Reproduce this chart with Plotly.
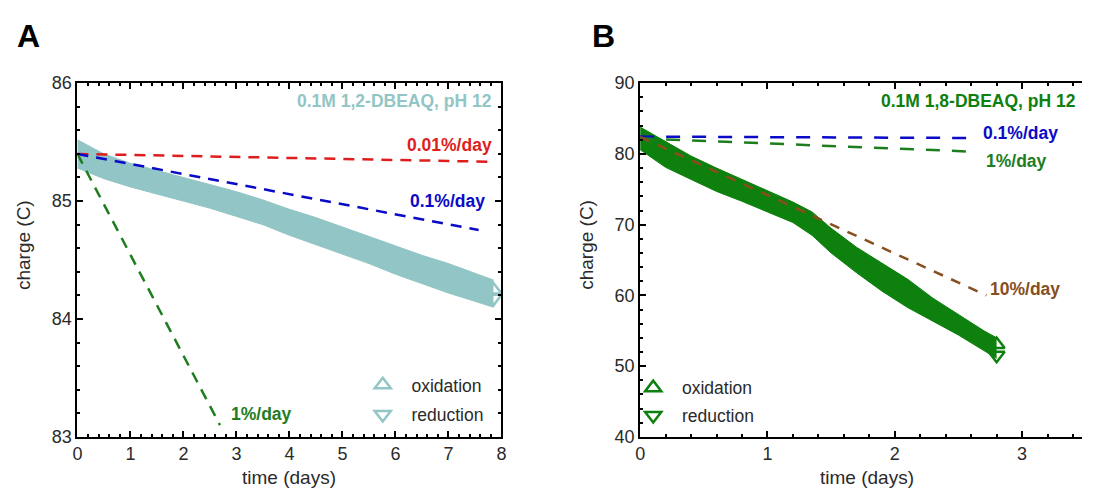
import plotly.graph_objects as go

# ---- panel A : 0.1M 1,2-DBEAQ, pH 12 ----
a_days = [0, 0.5, 1, 1.5, 2, 2.5, 3, 3.5, 4, 4.5, 5, 5.5, 6, 6.5, 7, 7.5, 7.85]
a_oxidation = [85.52, 85.40, 85.32, 85.26, 85.20, 85.14, 85.08, 85.01, 84.93,
               84.86, 84.78, 84.70, 84.62, 84.54, 84.47, 84.39, 84.33]
a_reduction = [85.28, 85.19, 85.12, 85.06, 85.00, 84.94, 84.87, 84.80, 84.71,
               84.63, 84.55, 84.47, 84.38, 84.30, 84.22, 84.15, 84.10]
a_fade_red_x = [0, 7.85]     # 0.01%/day
a_fade_red_y = [85.40, 85.333]
a_fade_blue_x = [0, 7.57]    # 0.1%/day
a_fade_blue_y = [85.40, 84.754]
a_fade_green_x = [0, 2.69]   # 1%/day
a_fade_green_y = [85.40, 83.10]

# ---- panel B : 0.1M 1,8-DBEAQ, pH 12 ----
b_days = [0, 0.2, 0.4, 0.6, 0.8, 1.0, 1.2, 1.35, 1.5, 1.7, 1.9, 2.1, 2.3, 2.5, 2.7, 2.8]
b_oxidation = [83.8, 81.7, 79.7, 78.0, 76.4, 74.7, 73.2, 71.8, 69.5, 66.8,
               64.5, 62.3, 59.6, 57.3, 55.0, 54.0]
b_reduction = [80.6, 78.1, 76.4, 74.7, 73.3, 71.8, 70.3, 68.5, 66.0, 63.2,
               60.6, 58.3, 56.3, 54.4, 52.2, 51.1]
b_fade_blue_x = [0, 2.64]    # 0.1%/day
b_fade_blue_y = [82.45, 82.25]
b_fade_green_x = [0, 2.64]   # 1%/day
b_fade_green_y = [82.2, 80.3]
b_fade_brown_x = [0, 2.72]   # 10%/day
b_fade_brown_y = [82.4, 60.0]

TEAL = "rgb(146,197,197)"
GREEN = "rgb(14,128,14)"
RED = "rgb(222,30,30)"
BLUE = "rgb(10,10,200)"
DKGREEN = "rgb(30,125,30)"
BROWN = "rgb(135,78,30)"
FONT = "Arial, Liberation Sans, sans-serif"

# figure sits inside the page body (8px default margin), so size it to fit the window
W, H = 1079, 482
OFF = 8
def px(x):
    return (x - OFF) / W
def py(y):
    return 1 - (y - OFF) / H

fig = go.Figure()

# band = oxidation upper edge, reduction lower edge
fig.add_trace(go.Scatter(x=a_days, y=a_oxidation, mode="lines", line=dict(color=TEAL, width=1),
                         showlegend=False, xaxis="x", yaxis="y"))
fig.add_trace(go.Scatter(x=a_days, y=a_reduction, mode="lines", line=dict(color=TEAL, width=1),
                         fill="tonexty", fillcolor=TEAL, showlegend=False, xaxis="x", yaxis="y"))
dash = "11px,8px"
fig.add_trace(go.Scatter(x=a_fade_red_x, y=a_fade_red_y, mode="lines",
                         line=dict(color=RED, width=2.5, dash=dash), showlegend=False))
fig.add_trace(go.Scatter(x=a_fade_blue_x, y=a_fade_blue_y, mode="lines",
                         line=dict(color=BLUE, width=2.5, dash=dash), showlegend=False))
fig.add_trace(go.Scatter(x=a_fade_green_x, y=a_fade_green_y, mode="lines",
                         line=dict(color=DKGREEN, width=2.5, dash=dash), showlegend=False))
# end markers (also legend entries)
fig.add_trace(go.Scatter(x=a_days[-1:], y=[(a_oxidation[-1] + a_reduction[-1]) / 2 + 0.03], mode="markers",
                         marker=dict(symbol="triangle-up-open", size=14, color=TEAL, line=dict(width=2.5)),
                         name="\u2002oxidation", legend="legend", legendgroup="a1"))
fig.add_trace(go.Scatter(x=a_days[-1:], y=[(a_oxidation[-1] + a_reduction[-1]) / 2 - 0.04], mode="markers",
                         marker=dict(symbol="triangle-down-open", size=14, color=TEAL, line=dict(width=2.5)),
                         name="\u2002reduction", legend="legend", legendgroup="a2"))

fig.add_trace(go.Scatter(x=b_days, y=b_oxidation, mode="lines", line=dict(color=GREEN, width=1),
                         showlegend=False, xaxis="x2", yaxis="y2"))
fig.add_trace(go.Scatter(x=b_days, y=b_reduction, mode="lines", line=dict(color=GREEN, width=1),
                         fill="tonexty", fillcolor=GREEN, showlegend=False, xaxis="x2", yaxis="y2"))
fig.add_trace(go.Scatter(x=b_fade_blue_x, y=b_fade_blue_y, mode="lines", xaxis="x2", yaxis="y2",
                         line=dict(color=BLUE, width=2.5, dash="14px,12px"), showlegend=False))
fig.add_trace(go.Scatter(x=b_fade_green_x, y=b_fade_green_y, mode="lines", xaxis="x2", yaxis="y2",
                         line=dict(color=DKGREEN, width=2.5, dash="14px,12px"), showlegend=False))
fig.add_trace(go.Scatter(x=b_fade_brown_x, y=b_fade_brown_y, mode="lines", xaxis="x2", yaxis="y2",
                         line=dict(color=BROWN, width=2.5, dash="10px,9px"), showlegend=False))
fig.add_trace(go.Scatter(x=b_days[-1:], y=[(b_oxidation[-1] + b_reduction[-1]) / 2 + 0.5], mode="markers",
                         xaxis="x2", yaxis="y2",
                         marker=dict(symbol="triangle-up-open", size=14, color=GREEN, line=dict(width=2.5)),
                         name="\u2002oxidation", legend="legend2", legendgroup="b1"))
fig.add_trace(go.Scatter(x=b_days[-1:], y=[(b_oxidation[-1] + b_reduction[-1]) / 2 - 1.0], mode="markers",
                         xaxis="x2", yaxis="y2",
                         marker=dict(symbol="triangle-down-open", size=14, color=GREEN, line=dict(width=2.5)),
                         name="\u2002reduction", legend="legend2", legendgroup="b2"))

axis_common = dict(showline=True, linecolor="black", linewidth=2, ticks="inside", ticklen=6,
                   tickwidth=1.5, tickcolor="black", showgrid=False, zeroline=False,
                   tickfont=dict(family=FONT, size=18, color="#2a2a2a"))
ydom = [py(445), py(76)]
b_right = (W + OFF - 641) / 128.5   # days visible up to the window edge

fig.update_layout(
    width=W, height=H, margin=dict(l=0, r=0, t=0, b=0),
    paper_bgcolor="white", plot_bgcolor="white",
    xaxis=dict(domain=[px(73), px(501)], range=[0, 8], dtick=1, mirror="allticks", anchor="y",
               minor=dict(ticks="inside", dtick=0.2, ticklen=3, tickcolor="black"), **axis_common),
    yaxis=dict(domain=ydom, range=[83, 86], dtick=1, mirror="allticks", anchor="x",
               minor=dict(ticks="inside", dtick=0.2, ticklen=3, tickcolor="black"), **axis_common),
    xaxis2=dict(domain=[px(641), 1], range=[0, b_right], dtick=1, mirror="allticks", anchor="y2",
                minor=dict(ticks="inside", dtick=0.2, ticklen=3, tickcolor="black"), **axis_common),
    yaxis2=dict(domain=ydom, range=[40, 90], dtick=10, mirror=False, anchor="x2",
                minor=dict(ticks="inside", dtick=2, ticklen=3, tickcolor="black"), **axis_common),
    legend=dict(x=px(361), y=py(372), xanchor="left", yanchor="top", bgcolor="rgba(0,0,0,0)",
                traceorder="grouped", tracegroupgap=4,
                font=dict(family=FONT, size=17.5, color="#2a2a2a"), itemsizing="trace"),
    legend2=dict(x=px(634), y=py(375), xanchor="left", yanchor="top", bgcolor="rgba(0,0,0,0)",
                 traceorder="grouped", tracegroupgap=2,
                 font=dict(family=FONT, size=17.5, color="#2a2a2a"), itemsizing="trace"),
)

def note(text, x, y, color, size=17.5, bold=True, xanchor="center", angle=0):
    fig.add_annotation(text="<b>%s</b>" % text if bold else text, x=px(x), y=py(y),
                       xref="paper", yref="paper", xanchor=xanchor, yanchor="middle",
                       showarrow=False, textangle=angle,
                       font=dict(family=FONT, size=size, color=color))

note("A", 24, 27, "black", size=32)
note("B", 604, 27, "black", size=32)
note("0.1M 1,2-DBEAQ, pH 12", 494, 95, TEAL, xanchor="right")
note("0.01%/day", 494, 140, RED, xanchor="right")
note("0.1%/day", 486, 199, BLUE, xanchor="right")
note("1%/day", 226, 421, DKGREEN, xanchor="left")
note("0.1M 1,8-DBEAQ, pH 12", 1083, 95, GREEN, xanchor="right")
note("0.1%/day", 985, 128, BLUE, xanchor="left")
note("1%/day", 988, 157, DKGREEN, xanchor="left")
note("10%/day", 992, 291, BROWN, xanchor="left")
note("charge (C)", 18, 245, "#2a2a2a", size=19, bold=False, angle=-90)
note("charge (C)", 587, 245, "#2a2a2a", size=19, bold=False, angle=-90)
note("time (days)", 287, 487, "#2a2a2a", size=19, bold=False)
note("time (days)", 870, 487, "#2a2a2a", size=19, bold=False)

fig.write_html("out.html")
